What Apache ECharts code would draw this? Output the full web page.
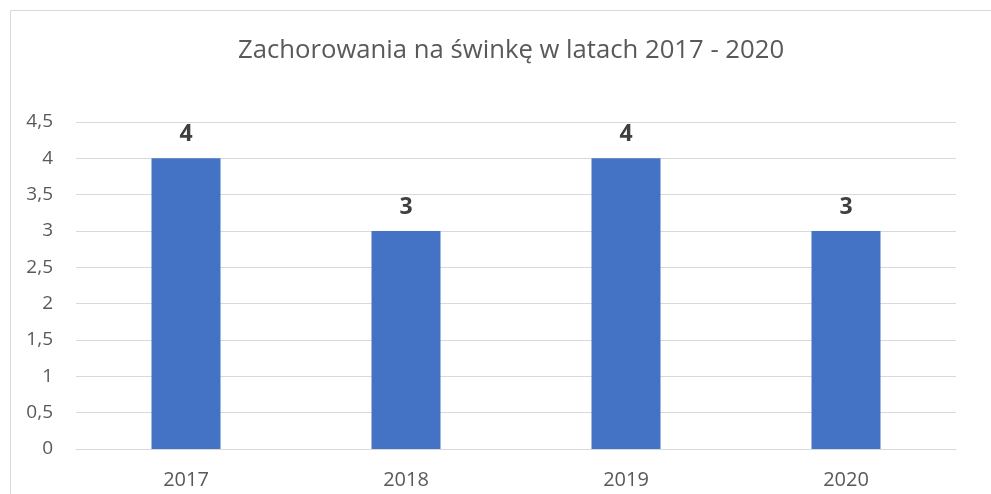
<!DOCTYPE html>
<html>
<head>
<meta charset="utf-8">
<script src="https://cdn.jsdelivr.net/npm/echarts@6/dist/echarts.min.js"></script>
<style>
  html, body { margin: 0; padding: 0; background: #fff; }
</style>
</head>
<body>
<div id="chart" style="width:991px;height:494px;"></div>
<script>
var years = ['2017', '2018', '2019', '2020'];
var cases = [4, 3, 4, 3];
var chartTitle = 'Zachorowania na świnkę w latach 2017 - 2020';

var myChart = echarts.init(document.getElementById('chart'));
var options = {
    animation: false,
    textStyle: { fontFamily: 'Open Sans' },
    title: {
        text: chartTitle,
        left: 233,
        top: 33,
        textStyle: { fontSize: 25.7, fontWeight: 'normal', color: '#595959', fontFamily: 'Open Sans' }
    },
    graphic: [
        {
            type: 'rect',
            shape: { x: 10.5, y: 10.5, width: 1100, height: 1100 },
            style: { fill: 'none', stroke: '#d9d9d9', lineWidth: 1 },
            silent: true
        }
    ],
    grid: { left: 76, right: 35, top: 122, bottom: 45 },
    xAxis: {
        type: 'category',
        data: years,
        axisTick: { show: false },
        axisLine: { lineStyle: { color: '#d9d9d9' } },
        axisLabel: { color: '#595959', fontSize: 20, margin: 21 }
    },
    yAxis: {
        type: 'value',
        min: 0,
        max: 4.5,
        interval: 0.5,
        axisLine: { show: false },
        axisTick: { show: false },
        splitLine: { lineStyle: { color: '#d9d9d9' } },
        axisLabel: {
            color: '#595959',
            fontSize: 19,
            margin: 23,
            formatter: function (v) { return String(v).replace('.', ','); }
        }
    },
    series: [
        {
            type: 'bar',
            data: cases,
            barWidth: 69,
            itemStyle: { color: '#4472c4' },
            label: {
                show: true,
                position: 'top',
                distance: 12,
                color: '#404040',
                fontSize: 23,
                fontWeight: 'bold'
            }
        }
    ]
};
myChart.setOption(options);
</script>
</body>
</html>
